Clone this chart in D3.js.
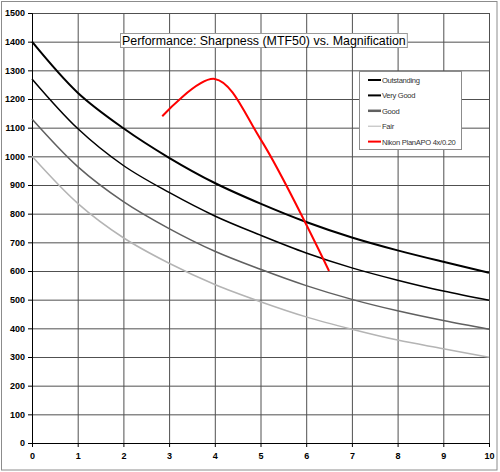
<!DOCTYPE html>
<html lang="en">
<head>
    <meta charset="UTF-8">
    <title>Sharpness vs Magnification</title>
    <script src="https://d3js.org/d3.v7.min.js"></script>
    <style>
        html, body { margin: 0; padding: 0; background: white; }
        svg { display: block; font-family: 'Liberation Sans', Arial, sans-serif; }
    </style>
</head>
<body>
<div class="content"></div>
<script>
    // values
    const magnification = [0, 1, 2, 3, 4, 5, 6, 7, 8, 9, 10];
    const outstanding = [1400, 1222, 1098, 995, 907, 835, 771, 717, 672, 632, 594];
    const veryGood = [1270, 1097, 968, 874, 792, 725, 663, 611, 568, 530, 498];
    const good = [1130, 964, 842, 748, 669, 606, 549, 501, 461, 427, 397];
    const fair = [1000, 836, 716, 627, 553, 493, 440, 397, 359, 329, 299];
    const nikonX = [2.85, 4, 5, 6.5];
    const nikonY = [1140, 1270, 1060, 600];
    const xTicks = [0, 1, 2, 3, 4, 5, 6, 7, 8, 9, 10];
    const yTicks = [0, 100, 200, 300, 400, 500, 600, 700, 800, 900, 1000, 1100, 1200, 1300, 1400, 1500];
    const seriesNames = ["Outstanding", "Very Good", "Good", "Fair", "Nikon PlanAPO 4x/0.20"];
    const chartTitle = "Performance: Sharpness (MTF50) vs. Magnification";

    const w = 500;
    const h = 472;
    const margin = {top: 13, right: 11, bottom: 29, left: 32};

    const svg = d3.select(".content")
        .append("svg")
        .attr("width", w)
        .attr("height", h);

    svg.append("rect")
        .attr("x", 1.5).attr("y", 1.5)
        .attr("width", 495.5).attr("height", 468.5)
        .attr("fill", "white")
        .attr("stroke", "#8c8c8c");

    const x = d3.scaleLinear().domain([0, 10]).range([margin.left, w - margin.right]);
    const y = d3.scaleLinear().domain([0, 1500]).range([h - margin.bottom, margin.top]);

    // grid
    svg.append("g")
        .attr("transform", `translate(0,${h - margin.bottom})`)
        .call(d3.axisBottom(x).tickValues(xTicks).tickSize(-(h - margin.top - margin.bottom)).tickFormat(""))
        .call(g => g.select(".domain").remove())
        .call(g => g.selectAll("line").attr("stroke", "#505050"));

    svg.append("g")
        .attr("transform", `translate(${margin.left},0)`)
        .call(d3.axisLeft(y).tickValues(yTicks).tickSize(-(w - margin.left - margin.right)).tickFormat(""))
        .call(g => g.select(".domain").remove())
        .call(g => g.selectAll("line").attr("stroke", "#505050"));

    // axes
    const xAxis = svg.append("g")
        .attr("transform", `translate(0,${h - margin.bottom})`)
        .call(d3.axisBottom(x).tickValues(xTicks).tickSize(4).tickPadding(6).tickFormat(d3.format("d")));
    const yAxis = svg.append("g")
        .attr("transform", `translate(${margin.left},0)`)
        .call(d3.axisLeft(y).tickValues(yTicks).tickSize(4).tickPadding(3).tickFormat(d3.format("d")));

    [xAxis, yAxis].forEach(a => {
        a.select(".domain").attr("stroke", "black");
        a.selectAll("line").attr("stroke", "black");
        a.selectAll("text")
            .attr("fill", "black")
            .attr("font-size", "9px")
            .attr("font-weight", "bold")
            .attr("font-family", "'Liberation Sans', Arial, sans-serif");
    });

    // series
    const line = d3.line()
        .x(d => x(d[0]))
        .y(d => y(d[1]))
        .curve(d3.curveCatmullRom);

    const series = [
        {name: seriesNames[0], xs: magnification, ys: outstanding, color: "#000000", width: 2},
        {name: seriesNames[1], xs: magnification, ys: veryGood, color: "#000000", width: 1.5},
        {name: seriesNames[2], xs: magnification, ys: good, color: "#606060", width: 1.5},
        {name: seriesNames[3], xs: magnification, ys: fair, color: "#b4b4b4", width: 1.5},
        {name: seriesNames[4], xs: nikonX, ys: nikonY, color: "#ff0000", width: 2}
    ];

    svg.selectAll("path.series")
        .data(series)
        .enter()
        .append("path")
        .attr("class", "series")
        .attr("d", s => line(s.xs.map((v, i) => [v, s.ys[i]])))
        .attr("fill", "none")
        .attr("stroke", s => s.color)
        .attr("stroke-width", s => s.width);

    // title
    const title = svg.append("g");
    const titleBox = title.append("rect")
        .attr("fill", "white")
        .attr("stroke", "#9a9a9a");
    const titleText = title.append("text")
        .attr("x", 122)
        .attr("y", 45)
        .attr("font-size", "12.4px")
        .attr("fill", "black")
        .text(chartTitle);
    const tb = titleText.node().getBBox();
    titleBox.attr("x", 120.5).attr("y", 33.5)
        .attr("width", tb.width + 3).attr("height", 14);

    // legend
    const legend = svg.append("g");
    legend.append("rect")
        .attr("x", 359.5).attr("y", 71.5)
        .attr("width", 102).attr("height", 78)
        .attr("fill", "white")
        .attr("stroke", "#8c8c8c");

    const entries = legend.selectAll("g.entry")
        .data(series)
        .enter()
        .append("g")
        .attr("class", "entry")
        .attr("transform", (d, i) => `translate(368,${80 + i * 15.4})`);

    entries.append("line")
        .attr("x1", 0).attr("x2", 13)
        .attr("y1", 0).attr("y2", 0)
        .attr("stroke", d => d.color)
        .attr("stroke-width", (d, i) => i === 2 ? 2.5 : (i === 3 ? 1 : 2));

    entries.append("text")
        .attr("x", 14)
        .attr("y", 3)
        .attr("font-size", "7.6px")
        .attr("letter-spacing", "-0.3px")
        .attr("fill", "#333")
        .text(d => d.name);
</script>
</body>
</html>
